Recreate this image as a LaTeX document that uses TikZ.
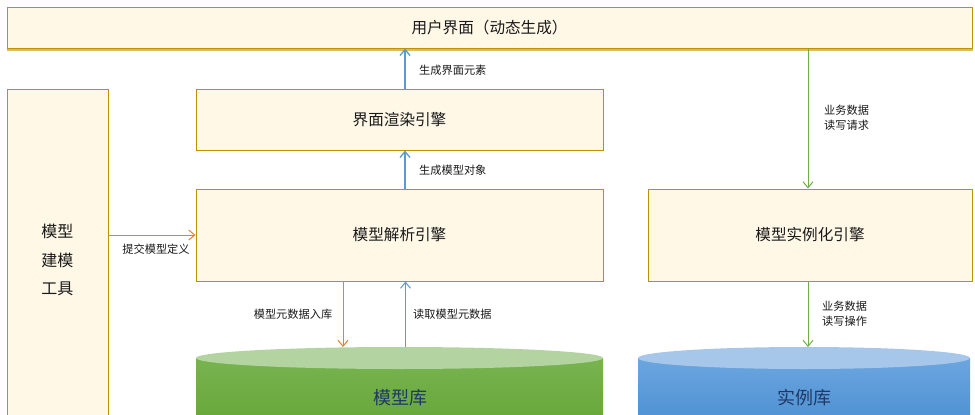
\documentclass[tikz,border=0pt]{standalone}
\usepackage{fontspec}
\setmainfont{Noto Sans CJK SC}
\usetikzlibrary{arrows.meta,calc}
\definecolor{boxfill}{HTML}{FFF8E7}
\definecolor{boxline}{HTML}{BF9000}
\definecolor{arrblue}{HTML}{5B9BD5}
\definecolor{arrorange}{HTML}{ED7D31}
\definecolor{arrgreen}{HTML}{70AD47}
\definecolor{dbtext}{HTML}{203864}
\definecolor{greentop}{HTML}{B3D4A0}
\definecolor{greenA}{HTML}{78B350}
\definecolor{greenB}{HTML}{67A83A}
\definecolor{bluetop}{HTML}{A6C7EA}
\definecolor{blueA}{HTML}{6CA6DF}
\definecolor{blueB}{HTML}{4E91D3}
\begin{document}
\begin{tikzpicture}[x=1pt,y=-1pt,
  box/.style={draw=boxline, fill=boxfill, line width=1pt, inner sep=0pt, text=black!90},
  mainfont/.style={font=\fontsize{15.6}{18}\selectfont},
  lbl/.style={font=\fontsize{11.2}{15}\selectfont, text=black!90, inner sep=0pt, align=left},
  flow/.style={line width=1pt, -{Straight Barb[length=6pt,width=10pt,line width=1pt]}},
  thickflow/.style={line width=1.6pt, -{Straight Barb[length=6pt,width=10pt,line width=1.3pt]}},
  dblabel/.style={font=\fontsize{18}{20}\selectfont, text=dbtext, inner sep=0pt},
]
\useasboundingbox (0,0) rectangle (975,415);
\begin{scope}
\clip (0,0) rectangle (975,415);
% boxes
\node[box, mainfont, minimum width=965pt, minimum height=41pt] (ui) at (489.5,27.5) {用户界面（动态生成）};
\draw[boxline!60, line width=1.5pt] ([yshift=-1.3pt]ui.south west) -- ([yshift=-1.3pt]ui.south east);
\node[box, minimum width=101pt, minimum height=345pt, anchor=north west] (tool) at (7,89) {};
\node[font=\fontsize{16}{28.5}\selectfont, text=black!90, align=center, inner sep=0pt] (tooltext) at (57.5,260) {模型\\建模\\工具};
\node[box, mainfont, minimum width=407pt, minimum height=61pt] (render) at (399.5,119.5) {界面渲染引擎};
\node[box, mainfont, minimum width=407pt, minimum height=92pt] (parse) at (399.5,235) {模型解析引擎};
\node[box, mainfont, minimum width=324pt, minimum height=92pt] (inst) at (810,235) {模型实例化引擎};
% cylinders
\shade[top color=greenA, bottom color=greenB] (196,358) rectangle (603,420);
\fill[greentop] (399.5,358) ellipse [x radius=203.5, y radius=11];
\shade[top color=blueA, bottom color=blueB] (638,358) rectangle (970,420);
\fill[bluetop] (804,358) ellipse [x radius=166, y radius=11];
\node[dblabel] (modeldb) at (400,398) {模型库};
\node[dblabel] (instdb) at (804,398) {实例库};
\coordinate (modeldbtop) at (399.5,347);
\coordinate (instdbtop) at (808,347);
% connectors
\draw[thickflow, arrblue] ([xshift=5.5pt]render.north) -- ([xshift=5.5pt]render.north |- ui.south);
\draw[thickflow, arrblue] ([xshift=5.5pt]parse.north) -- ([xshift=5.5pt]parse.north |- render.south);
\draw[flow, arrgreen] (instdbtop |- ui.south) -- (instdbtop |- inst.north);
\draw[flow, arrorange] (tool.east |- parse.west) -- (parse.west);
\draw[flow, arrorange] ([xshift=-56.5pt]parse.south) -- ([xshift=-56.5pt]parse.south |- modeldbtop);
\draw[flow, arrblue] ([xshift=6pt]parse.south |- modeldbtop) -- ([xshift=6pt]parse.south);
\draw[flow, arrgreen] (instdbtop |- inst.south) -- (instdbtop);
% labels
\node[lbl, anchor=west] (l1) at (419,70) {生成界面元素};
\node[lbl, anchor=west] (l2) at (419,170) {生成模型对象};
\node[lbl, anchor=west] (l3) at (824,117.5) {业务数据\\读写请求};
\node[lbl] (l4) at (156,249) {提交模型定义};
\node[lbl] (l5) at (293,314) {模型元数据入库};
\node[lbl, anchor=west] (l6) at (413,314) {读取模型元数据};
\node[lbl, anchor=west] (l7) at (822,314) {业务数据\\读写操作};
\end{scope}
\end{tikzpicture}
\end{document}
